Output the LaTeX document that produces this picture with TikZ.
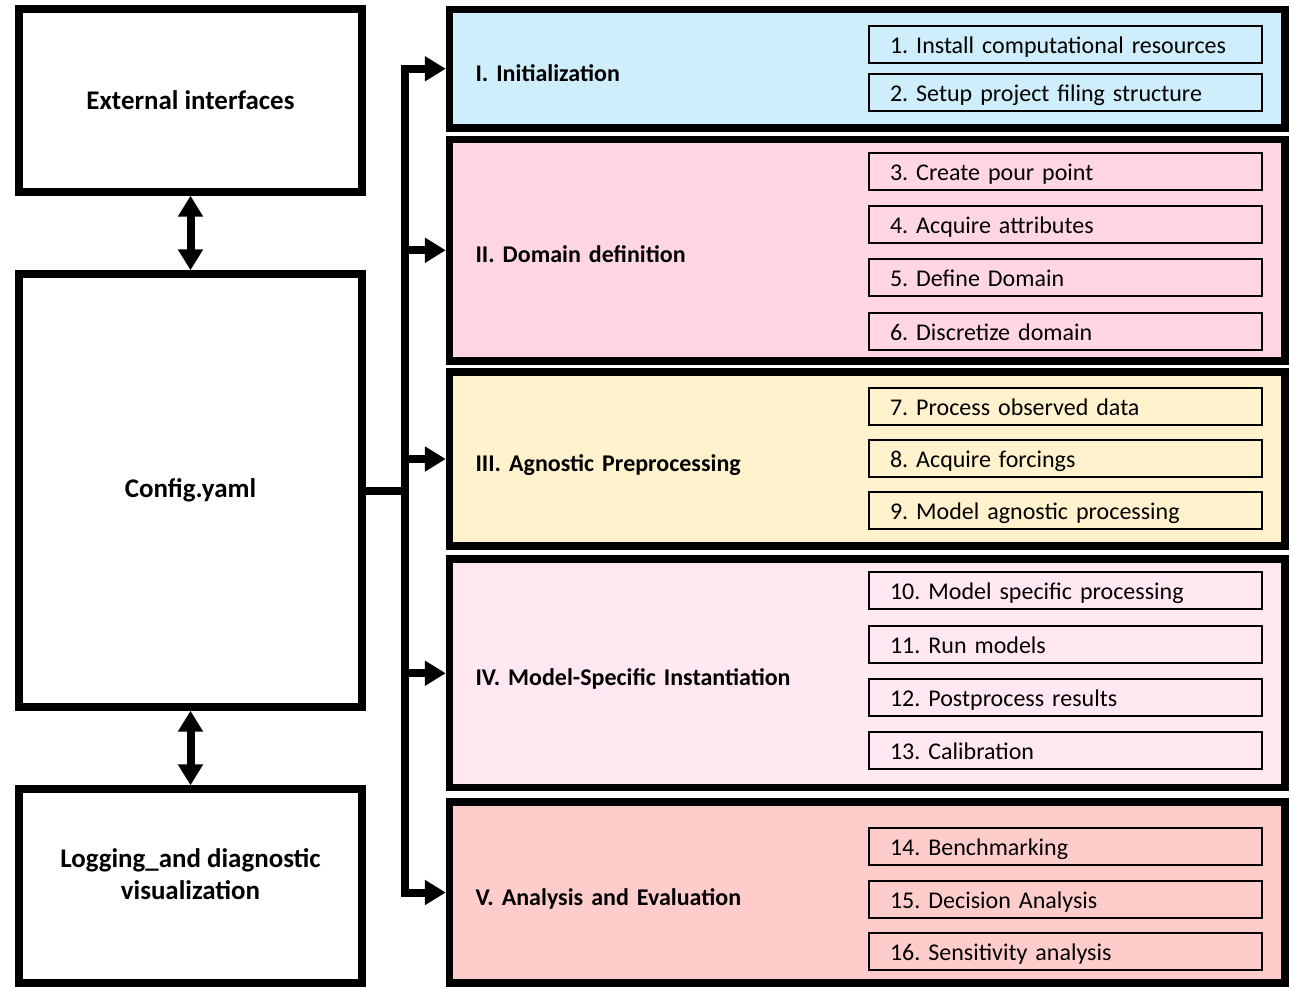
\documentclass[tikz,border=0pt]{standalone}
\usepackage{fontspec}
\setmainfont{Carlito}
\frenchspacing
\usetikzlibrary{arrows.meta}
\newcommand{\pxu}{0.75pt}
\definecolor{initblue}{RGB}{205,238,250}
\definecolor{domainpink}{RGB}{255,214,225}
\definecolor{prepyellow}{RGB}{255,242,204}
\definecolor{modelpink}{RGB}{255,232,242}
\definecolor{evalred}{RGB}{255,204,204}

\begin{document}
\begin{tikzpicture}[x=0.75pt,y=-0.75pt,font=\fontsize{18}{24}\selectfont,
    sidebox/.style={draw,line width=5.6pt,fill=white,minimum width=343*\pxu,align=center,font=\fontsize{20.2}{24}\selectfont\bfseries},
    phase/.style={draw,line width=5.6pt,minimum width=835.5*\pxu,text width=783.5*\pxu,inner xsep=26*\pxu,align=left,text height=19pt,text depth=0pt,font=\fontsize{18}{24}\selectfont\bfseries},
    stepbox/.style={draw,line width=1.5pt,minimum width=393*\pxu,minimum height=37*\pxu,text width=351*\pxu,inner xsep=21*\pxu,inner ysep=0pt,text height=15pt,text depth=1.5pt,align=left},
    flow/.style={line width=6pt},
    tip/.style={-{Triangle[length=15.75pt,width=18pt]}},
    bothtips/.style={{Triangle[length=15.75pt,width=18pt]}-{Triangle[length=15.75pt,width=18pt]}}]
    \useasboundingbox (0,0) rectangle (1291,986);
    \node[sidebox,minimum height=183*\pxu] (ext) at (190.5,100.5) {External interfaces};
    \node[sidebox,minimum height=433*\pxu] (config) at (190.5,490.5) {Config.yaml};
    \node[sidebox,minimum height=194*\pxu,text depth=18.5pt] (log) at (190.5,886) {Logging\_and diagnostic\\visualization};
    \draw[flow,bothtips] (ext) -- (config);
    \draw[flow,bothtips] (config) -- (log);
    \node[phase,fill=initblue,minimum height=118.5*\pxu] (init) at (867.25,68.75) {I. Initialization};
    \node[phase,fill=domainpink,minimum height=221.5*\pxu] (domain) at (867.25,250.25) {II. Domain definition};
    \node[phase,fill=prepyellow,minimum height=174*\pxu] (prep) at (867.25,459) {III. Agnostic Preprocessing};
    \node[phase,fill=modelpink,minimum height=228.5*\pxu] (model) at (867.25,673.25) {IV. Model-Specific Instantiation};
    \node[phase,fill=evalred,minimum height=181*\pxu] (eval) at (867.25,892.5) {V. Analysis and Evaluation};
    \coordinate (bus) at (405,490.5);
    \draw[flow] (config.east) -- (bus);
    \draw[flow,bothtips] (init.west) -- (init.west -| bus) -- (eval.west -| bus) -- (eval.west);
    \draw[flow,tip] (domain.west -| bus) -- (domain.west);
    \draw[flow,tip] (prep.west -| bus) -- (prep.west);
    \draw[flow,tip] (model.west -| bus) -- (model.west);
    \node[stepbox] (s1) at (1065.5,44.5) {1. Install computational resources};
    \node[stepbox] (s2) at (1065.5,92.5) {2. Setup project filing structure};
    \node[stepbox] (s3) at (1065.5,171) {3. Create pour point};
    \node[stepbox] (s4) at (1065.5,224) {4. Acquire attributes};
    \node[stepbox] (s5) at (1065.5,277) {5. Define Domain};
    \node[stepbox] (s6) at (1065.5,331) {6. Discretize domain};
    \node[stepbox] (s7) at (1065.5,406) {7. Process observed data};
    \node[stepbox] (s8) at (1065.5,458.5) {8. Acquire forcings};
    \node[stepbox] (s9) at (1065.5,510.5) {9. Model agnostic processing};
    \node[stepbox] (s10) at (1065.5,590.5) {10. Model specific processing};
    \node[stepbox] (s11) at (1065.5,644) {11. Run models};
    \node[stepbox] (s12) at (1065.5,697.5) {12. Postprocess results};
    \node[stepbox] (s13) at (1065.5,750) {13. Calibration};
    \node[stepbox] (s14) at (1065.5,846) {14. Benchmarking};
    \node[stepbox] (s15) at (1065.5,899) {15. Decision Analysis};
    \node[stepbox] (s16) at (1065.5,951) {16. Sensitivity analysis};
\end{tikzpicture}
\end{document}
